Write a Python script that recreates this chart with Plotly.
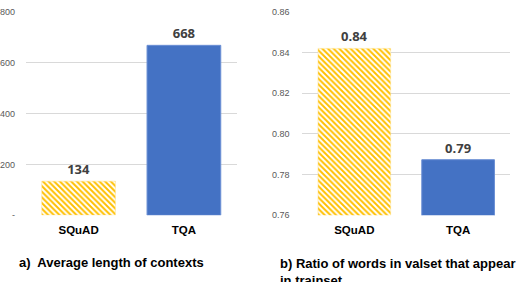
import plotly.graph_objects as go

categories = ["SQuAD", "TQA"]
avg_len = [134, 668]
ratio = [0.842, 0.7873]
avg_len_labels = ["134", "668"]
ratio_labels = ["0.84", "0.79"]
left_ticks = [0, 200, 400, 600, 800]
left_ticktext = ["-", "200", "400", "600", "800"]
right_ticks = [0.76, 0.78, 0.80, 0.82, 0.84, 0.86]
right_ticktext = ["0.76", "0.78", "0.80", "0.82", "0.84", "0.86"]

W, H = 520, 282
def fx(px): return px / W
def fy(py): return 1 - py / H

yellow = "#FFC000"
blue = "#4472C4"

value_font = dict(family="Open Sans", size=13, color="#404040", weight="bold")

def bar_styles(i):
    if i == 0:
        return dict(color=yellow,
                    pattern=dict(shape="\\", fgcolor=yellow, bgcolor="white",
                                 fillmode="replace", size=4, solidity=0.5),
                    line=dict(color="#FFE08A", width=0.5))
    return dict(color=blue, line=dict(color="#6A8FD4", width=1))

fig = go.Figure()
for xa, ya, vals, labels in [("x", "y", avg_len, avg_len_labels), ("x2", "y2", ratio, ratio_labels)]:
    for i, cat in enumerate(categories):
        fig.add_trace(go.Bar(
            x=[cat], y=[vals[i]], text=[labels[i]], textposition="outside",
            width=0.70, cliponaxis=False, textfont=value_font,
            marker=bar_styles(i), xaxis=xa, yaxis=ya, showlegend=False,
        ))

axis_common_x = dict(
    type="category", categoryorder="array", categoryarray=categories,
    range=[-0.5, 1.5], showgrid=False, showline=False, zeroline=False,
    ticks="", tickfont=dict(family="Liberation Sans", size=11.5, color="#000000", weight="bold"),
    ticklabelstandoff=6,
)
axis_common_y = dict(
    showgrid=True, gridcolor="#D9D9D9", gridwidth=1, zeroline=False, showline=False,
    ticks="", tickfont=dict(family="Liberation Sans", size=9, color="#595959"),
)

title_font = dict(family="Liberation Sans", size=13, color="#000000", weight="bold")

fig.update_layout(
    width=W, height=H, margin=dict(l=0, r=0, t=0, b=0),
    paper_bgcolor="white", plot_bgcolor="white", barmode="overlay",
    xaxis=dict(domain=[fx(25), fx(236)], anchor="y", **axis_common_x),
    yaxis=dict(domain=[fy(218), fy(7)], anchor="x", range=[0, 800],
               tickvals=left_ticks, ticktext=left_ticktext, ticklabelstandoff=10, **axis_common_y),
    xaxis2=dict(domain=[fx(302), fx(510)], anchor="y2", **axis_common_x),
    yaxis2=dict(domain=[fy(218), fy(7)], anchor="x2", range=[0.76, 0.86],
                tickvals=right_ticks, ticktext=right_ticktext, ticklabelstandoff=12, **axis_common_y),
    annotations=[
        dict(text="a)  Average length of contexts", x=fx(16), y=fy(267), xref="paper", yref="paper",
             xanchor="left", yanchor="middle", showarrow=False, font=title_font),
        dict(text="b) Ratio of words in valset that appear<br>in trainset", x=fx(278), y=fy(258),
             xref="paper", yref="paper", xanchor="left", yanchor="top", align="left", showarrow=False,
             font=title_font),
    ],
)

fig.write_html("out.html", config={"displayModeBar": False},
               post_script="document.body.style.margin='0';document.body.style.padding='0';")
